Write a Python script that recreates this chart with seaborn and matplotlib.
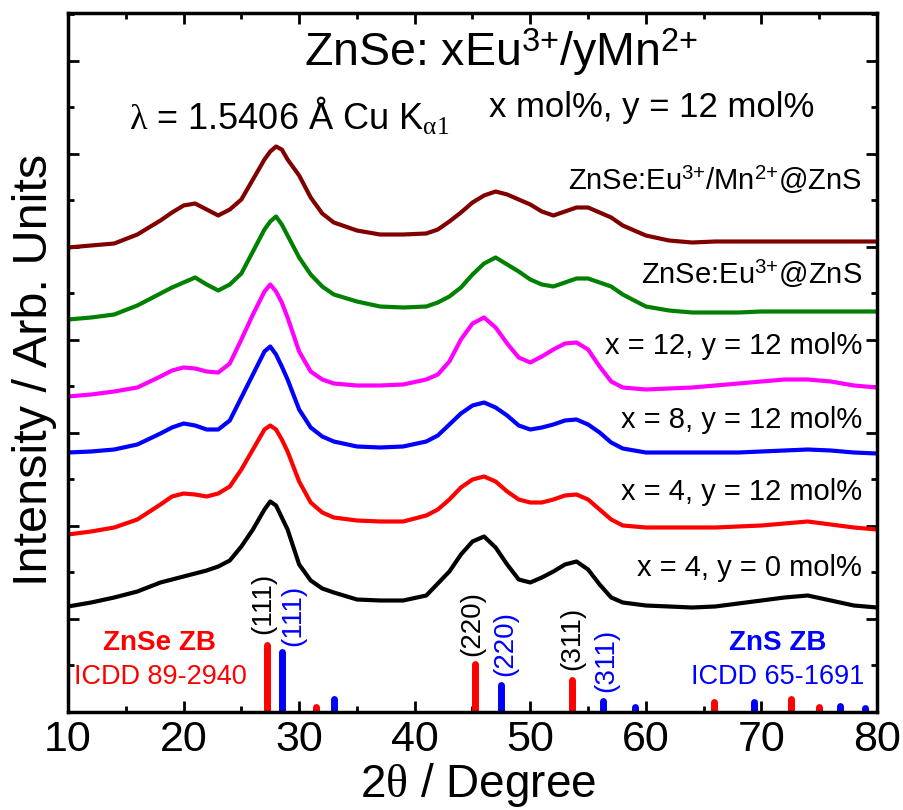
import numpy as np
import pandas as pd
import matplotlib
matplotlib.use("Agg")
import matplotlib.pyplot as plt
import seaborn as sns
from matplotlib.ticker import MultipleLocator

# 2-theta grid (degrees) and stacked XRD traces (arb. units, offsets included)
two_theta = [10, 12, 14, 16, 18, 19, 20, 21, 22, 23, 24, 25, 26, 27, 27.5, 28, 28.5, 29, 30, 31,
             32, 33, 35, 37, 39, 41, 42, 43, 44, 45, 46, 47, 48, 49, 50, 51, 52, 53, 54, 55,
             56, 57, 58, 60, 62, 64, 66, 68, 70, 72, 74, 76, 78, 80]

x4_y0 = [105, 109, 114, 120, 129, 132, 135, 138, 141, 145, 151, 165, 182, 202, 210, 206, 194, 182, 147, 131,
         123, 119, 112, 111, 111, 116, 128, 140, 157, 170, 175, 164, 147, 132, 129, 134, 140, 147, 150, 142,
         127, 114, 109, 106, 105, 104, 105, 108, 111, 114, 116, 111, 106, 104]
x4_y12 = [177, 180, 184, 192, 207, 215, 218, 217, 215, 218, 225, 242, 262, 282, 286, 282, 272, 260, 230, 209,
          199, 194, 191, 190, 190, 196, 202, 212, 224, 232, 235, 230, 220, 212, 209, 209, 212, 216, 217, 212,
          202, 192, 186, 184, 184, 184, 184, 185, 186, 188, 190, 187, 184, 182]
x8_y12 = [259, 260, 262, 267, 278, 284, 288, 286, 282, 282, 291, 314, 337, 360, 365, 357, 345, 332, 302, 284,
          275, 270, 265, 264, 265, 270, 276, 287, 298, 306, 309, 304, 296, 286, 282, 284, 287, 291, 292, 287,
          279, 269, 263, 259, 259, 259, 259, 259, 260, 261, 262, 261, 259, 258]
x12_y12 = [315, 317, 320, 324, 335, 341, 344, 343, 340, 339, 348, 372, 397, 420, 427, 420, 409, 394, 360, 340,
           332, 328, 326, 326, 327, 332, 337, 350, 372, 388, 394, 384, 368, 354, 349, 355, 362, 368, 369, 362,
           345, 330, 324, 322, 323, 324, 326, 328, 330, 332, 332, 330, 326, 324]
eu_zns = [392, 394, 397, 406, 418, 424, 429, 434, 427, 421, 427, 438, 460, 482, 490, 495, 487, 476, 454, 437,
          425, 417, 410, 405, 404, 405, 409, 415, 424, 437, 448, 454, 447, 440, 432, 427, 425, 429, 433, 433,
          429, 425, 417, 405, 401, 399, 399, 399, 400, 400, 400, 400, 400, 400]
eu_mn_zns = [464, 466, 468, 477, 491, 499, 506, 508, 502, 496, 502, 512, 532, 552, 560, 565, 562, 552, 536, 514,
             498, 489, 481, 477, 477, 478, 482, 490, 499, 509, 516, 520, 517, 512, 507, 500, 496, 500, 504, 504,
             499, 494, 486, 476, 471, 469, 470, 470, 470, 470, 470, 470, 470, 470]

samples = ["x = 4, y = 0 mol%", "x = 4, y = 12 mol%", "x = 8, y = 12 mol%",
           "x = 12, y = 12 mol%", r"ZnSe:Eu$^{\mathregular{3{+}}}$@ZnS",
           r"ZnSe:Eu$^{\mathregular{3{+}}}$/Mn$^{\mathregular{2{+}}}$@ZnS"]
colors = ["black", "#ff0000", "#0000ff", "#ff00ff", "#008000", "#800000"]
label_y = [135, 212, 284, 357, 427, 522]

# reference patterns (ICDD)
znse_pos = [27.2, 31.5, 45.2, 53.6, 65.9, 72.6, 75.0]
znse_int = [67, 5, 48, 32, 10, 13, 5]
zns_pos = [28.5, 33.0, 47.5, 56.3, 59.1, 69.4, 76.8, 79.0]
zns_int = [60, 13, 27, 11, 5, 10, 6, 4]

sns.set_theme(style="ticks")
plt.rcParams['font.family'] = ['Liberation Sans', 'DejaVu Sans']
plt.rcParams['mathtext.fontset'] = 'custom'
plt.rcParams['mathtext.rm'] = 'Liberation Serif'
plt.rcParams['mathtext.it'] = 'Liberation Serif:italic'
plt.rcParams['mathtext.bf'] = 'Liberation Serif:bold'
plt.rcParams['text.color'] = 'black'
plt.rcParams['xtick.color'] = 'black'
plt.rcParams['ytick.color'] = 'black'

traces = [x4_y0, x4_y12, x8_y12, x12_y12, eu_zns, eu_mn_zns]
df = pd.concat([pd.DataFrame({"two_theta": two_theta, "intensity": tr, "sample": s})
                for tr, s in zip(traces, samples)], ignore_index=True)

fig = plt.figure(figsize=(9.04, 8.1), dpi=100)
ax = fig.add_axes([68 / 904, 1 - 711.5 / 810, 809 / 904, 699 / 810])

sns.lineplot(data=df, x="two_theta", y="intensity", hue="sample", hue_order=samples,
             palette=colors, linewidth=3, legend=False, errorbar=None, ax=ax)
for ln in ax.lines:
    ln.set_solid_joinstyle("round")

ax.vlines(znse_pos, 0, znse_int, color="#ff0000", linewidth=5, capstyle="round")
ax.vlines(zns_pos, 0, zns_int, color="#0000ff", linewidth=5, capstyle="round")

ax.set_xlim(10, 80)
ax.set_ylim(0, 699)
ax.xaxis.set_major_locator(MultipleLocator(10))
ax.xaxis.set_minor_locator(MultipleLocator(5))
ax.yaxis.set_major_locator(MultipleLocator(93))
ax.yaxis.set_minor_locator(MultipleLocator(46.5))
ax.tick_params(which="both", direction="in", top=True, right=True, width=2, labelleft=False,
               colors="black")
ax.tick_params(which="major", length=8, labelsize=31, pad=6)
ax.tick_params(which="minor", length=4)
for sp in ax.spines.values():
    sp.set_linewidth(2.5)
    sp.set_color("black")
ax.set_xlabel("")
ax.set_ylabel("")

fig.text(478 / 904, 1 - 797 / 810, r"2$\mathrm{\theta}$ / Degree", fontsize=33,
         ha="center", va="baseline")
fig.text(35 / 904, 1 - 370 / 810, "Intensity / Arb. Units", fontsize=35,
         rotation=90, ha="center", va="center")

ax.text(47.5, 645, r"ZnSe: xEu$^{\mathregular{3{+}}}$/yMn$^{\mathregular{2{+}}}$", fontsize=33.5,
        ha="center", va="baseline")
ax.text(46.4, 595, "x mol%, y = 12 mol%", fontsize=25, ha="left", va="baseline")
ax.text(15.3, 582, r"$\mathrm{\lambda}$ = 1.5406 Å Cu K$_{\mathrm{\alpha 1}}$", fontsize=26,
        ha="left", va="baseline")

for s, y in zip(samples, label_y):
    ax.text(78.7, y, s, fontsize=21, ha="right", va="baseline")

ax.text(17.95, 62, "ZnSe ZB", fontsize=20, fontweight="bold", color="#ff0000", ha="center", va="baseline")
ax.text(17.95, 27, "ICDD 89-2940", fontsize=19.5, color="#ff0000", ha="center", va="baseline")
ax.text(71.4, 62, "ZnS ZB", fontsize=20, fontweight="bold", color="#0000ff", ha="center", va="baseline")
ax.text(71.4, 27, "ICDD 65-1691", fontsize=19.5, color="#0000ff", ha="center", va="baseline")

hkl = ["(111)", "(111)", "(220)", "(220)", "(311)", "(311)"]
hkl_x = [26.9, 29.5, 45.0, 47.8, 53.6, 56.6]
hkl_y = [77, 65, 55, 35, 42, 20]
hkl_c = ["black", "#0000ff", "black", "#0000ff", "black", "#0000ff"]
for t, x, y, c in zip(hkl, hkl_x, hkl_y, hkl_c):
    ax.text(x, y, t, fontsize=20, rotation=90, ha="center", va="bottom", color=c)

fig.savefig("out.png", dpi=100)
